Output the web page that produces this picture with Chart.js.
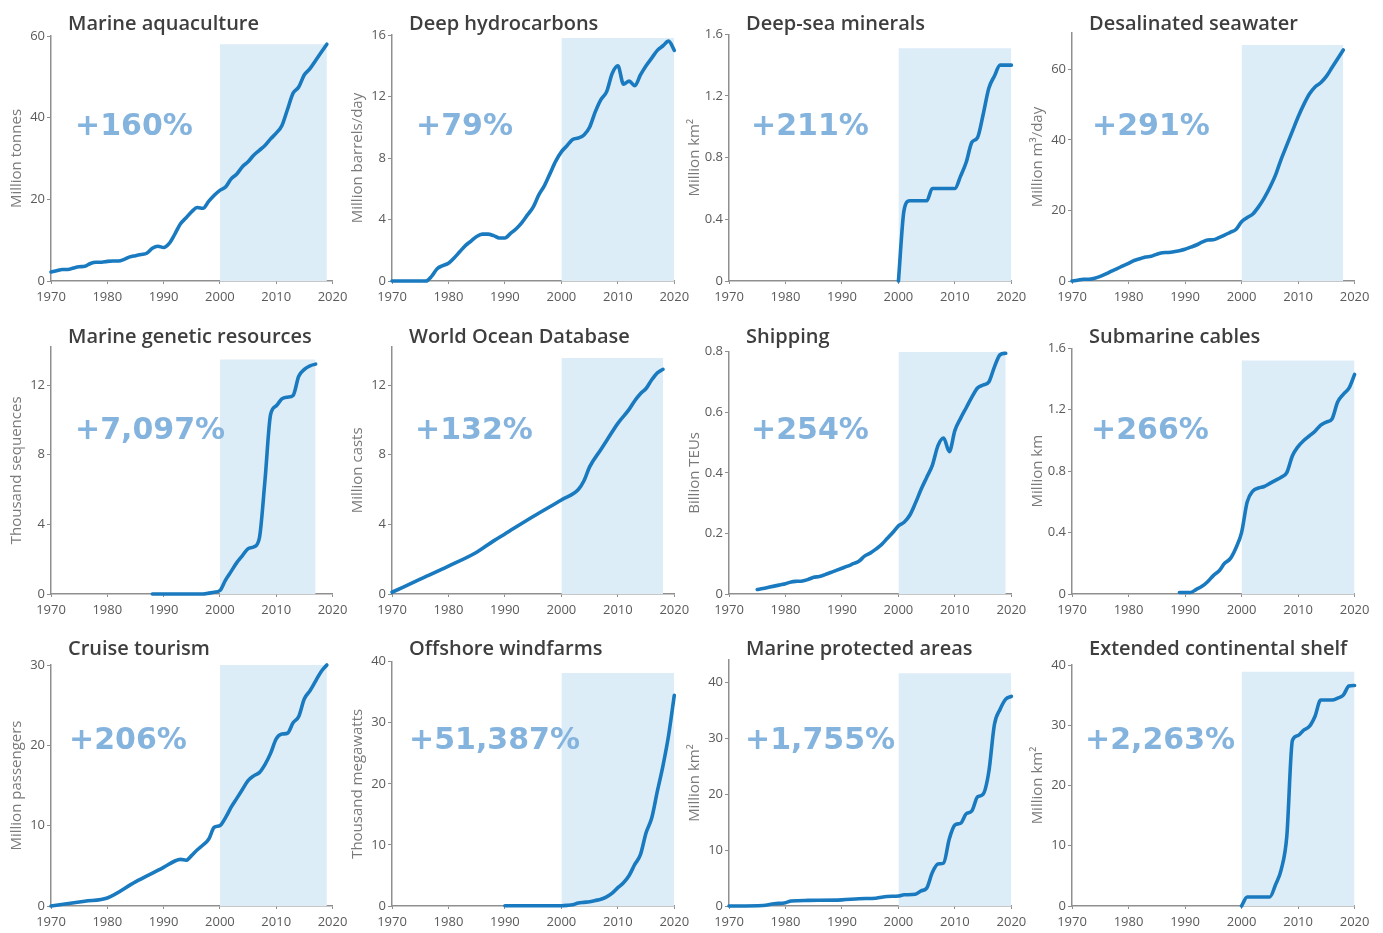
<!DOCTYPE html>
<html>
<head>
<meta charset="utf-8">
<title>Ocean activities since 1970</title>
<script src="https://cdn.jsdelivr.net/npm/chart.js@4.4.1/dist/chart.umd.min.js"></script>
<style>
  body { margin: 0; background: #fff; overflow: hidden; }
  #wrap { position: relative; width: 1383px; height: 933px; }
  #wrap canvas { position: absolute; }
</style>
</head>
<body>
<div id="wrap"></div>
<script>
// years helper for annual series
function span(a, b) { const out = []; for (let y = a; y <= b; y++) out.push(y); return out; }

const titles = ['Marine aquaculture', 'Deep hydrocarbons', 'Deep-sea minerals', 'Desalinated seawater',
  'Marine genetic resources', 'World Ocean Database', 'Shipping', 'Submarine cables',
  'Cruise tourism', 'Offshore windfarms', 'Marine protected areas', 'Extended continental shelf']
const units = ['Million tonnes', 'Million barrels/day', 'Million km²', 'Million m³/day',
  'Thousand sequences', 'Million casts', 'Billion TEUs', 'Million km',
  'Million passengers', 'Thousand megawatts', 'Million km²', 'Million km²']
const growth = ['+160%', '+79%', '+211%', '+291%', '+7,097%', '+132%', '+254%', '+266%',
  '+206%', '+51,387%', '+1,755%', '+2,263%']
const xTicks = [1970, 1980, 1990, 2000, 2010, 2020]
const yMax = [60, 16, 1.6, 70.3, 14.2, 14.2, 0.8, 1.6, 30, 40, 44, 40]
const yStep = [20, 4, 0.4, 20, 4, 4, 0.2, 0.4, 10, 10, 10, 10]
// light blue band: from 2000 to end year, up to shadeTop
const shadeStart = 2000
const shadeEnd = [2019, 2020, 2020, 2018, 2017, 2018, 2019, 2020, 2019, 2020, 2020, 2020]
const shadeTop = [58, 15.8, 1.51, 66.9, 13.47, 13.55, 0.8, 1.52, 30, 38.15, 41.65, 38.9]

const aquacultureYears = span(1970, 2019)
const aquacultureValues = [2.2, 2.5, 2.8, 2.8, 3.2, 3.5, 3.6, 4.3, 4.6, 4.6,
  4.8, 4.9, 4.9, 5.3, 5.9, 6.2, 6.5, 6.8, 8.0, 8.5,
  8.2, 9.2, 11.5, 14.0, 15.5, 17.0, 18.0, 17.8, 19.5, 21.0,
  22.2, 23.0, 25.0, 26.2, 28.0, 29.2, 30.8, 32.0, 33.2, 34.8,
  36.2, 38.0, 42.0, 46.0, 47.5, 50.5, 52.0, 54.0, 56.0, 58.0]

const hydrocarbonYears = span(1970, 2020)
const hydrocarbonValues = [0, 0, 0, 0, 0, 0, 0, 0.3, 0.8, 1.0,
  1.15, 1.5, 1.9, 2.3, 2.6, 2.9, 3.05, 3.05, 2.95, 2.8,
  2.8, 3.1, 3.4, 3.8, 4.3, 4.8, 5.6, 6.2, 7.0, 7.8,
  8.4, 8.8, 9.2, 9.3, 9.5, 10.0, 11.0, 11.8, 12.3, 13.5,
  14.0, 12.8, 13.0, 12.7, 13.4, 14.0, 14.5, 15.0, 15.3, 15.6, 15.0]

const mineralYears = span(2000, 2020)
const mineralValues = [0, 0.46, 0.52, 0.52, 0.52, 0.52, 0.6, 0.6, 0.6, 0.6,
  0.6, 0.68, 0.77, 0.9, 0.93, 1.08, 1.25, 1.33, 1.4, 1.4, 1.4]

const desalYears = span(1970, 2018)
const desalValues = [0, 0.2, 0.5, 0.5, 0.8, 1.3, 2.0, 2.8, 3.5, 4.3,
  5.0, 5.8, 6.3, 6.8, 7.0, 7.6, 8.0, 8.1, 8.3, 8.6,
  9.0, 9.6, 10.2, 11.0, 11.6, 11.7, 12.3, 13.0, 13.8, 14.6,
  16.8, 18.0, 19.0, 21.0, 23.5, 26.5, 30.0, 34.5, 38.5, 42.5,
  46.5, 50.0, 53.0, 55.0, 56.2, 58.0, 60.5, 63.0, 65.5]

const geneticYears = span(1988, 2017)
const geneticValues = [0, 0, 0, 0, 0, 0, 0, 0, 0, 0, 0.05, 0.1,
  0.2, 0.8, 1.3, 1.8, 2.2, 2.6, 2.7, 3.2, 6.5, 10.3,
  10.8, 11.2, 11.3, 11.4, 12.5, 12.9, 13.1, 13.2]

const wodYears = [1970, 1972, 1975, 1980, 1985, 1988, 1990, 1995, 2000, 2003, 2004, 2005,
  2007, 2008, 2010, 2012, 2013, 2014, 2015, 2016, 2017, 2018]
const wodValues = [0.1, 0.4, 0.85, 1.6, 2.4, 3.05, 3.45, 4.45, 5.4, 6.0, 6.5, 7.3,
  8.3, 8.8, 9.8, 10.6, 11.1, 11.5, 11.8, 12.3, 12.7, 12.9]

const shippingYears = span(1975, 2019)
const shippingValues = [0.015, 0.018, 0.022, 0.026, 0.03,
  0.034, 0.04, 0.042, 0.043, 0.048, 0.055, 0.058, 0.064, 0.071, 0.078,
  0.085, 0.092, 0.1, 0.108, 0.125, 0.135, 0.148, 0.163, 0.183, 0.203,
  0.225, 0.237, 0.26, 0.3, 0.345, 0.385, 0.425, 0.49, 0.515, 0.47,
  0.54, 0.58, 0.615, 0.65, 0.68, 0.69, 0.70, 0.75, 0.79, 0.795]

const cableYears = span(1989, 2020)
const cableValues = [0.01,
  0.01, 0.01, 0.03, 0.05, 0.08, 0.12, 0.15, 0.2, 0.23, 0.3,
  0.4, 0.6, 0.67, 0.69, 0.7, 0.72, 0.74, 0.76, 0.79, 0.9,
  0.96, 1.0, 1.03, 1.06, 1.1, 1.12, 1.14, 1.25, 1.3, 1.34, 1.43]

const cruiseYears = [1970, 1976, 1980, 1985, 1990, 1992, 1993, 1994, 1995, 1996, 1997, 1998, 1999,
  2000, 2001, 2002, 2003, 2004, 2005, 2006, 2007, 2008, 2009,
  2010, 2011, 2012, 2013, 2014, 2015, 2016, 2017, 2018, 2019]
const cruiseValues = [0, 0.6, 1.0, 3.0, 4.8, 5.6, 5.8, 5.7, 6.3, 7.0, 7.6, 8.3, 9.8,
  10.0, 11.0, 12.3, 13.4, 14.5, 15.6, 16.2, 16.6, 17.6, 19.0,
  20.8, 21.4, 21.5, 22.8, 23.6, 25.8, 26.8, 28.0, 29.2, 30.0]

const windYears = [1990, 2000, 2001, 2002, 2003, 2004, 2005, 2006, 2007, 2008, 2009,
  2010, 2011, 2012, 2013, 2014, 2015, 2016, 2017, 2018, 2019, 2020]
const windValues = [0.05, 0.05, 0.1, 0.2, 0.5, 0.6, 0.7, 0.9, 1.1, 1.5, 2.1,
  3.0, 3.8, 5.0, 6.8, 8.4, 12.0, 14.4, 18.8, 23.0, 28.0, 34.5]

const mpaYears = [1970, 1976, 1978, 1980, 1981, 1984, 1990, 1993, 1996, 1998,
  2000, 2001, 2003, 2004, 2005, 2006, 2007, 2008, 2009,
  2010, 2011, 2012, 2013, 2014, 2015, 2016, 2017, 2018, 2019, 2020]
const mpaValues = [0, 0.1, 0.4, 0.6, 0.9, 1.0, 1.1, 1.3, 1.4, 1.7,
  1.8, 2.0, 2.1, 2.7, 3.2, 6.0, 7.5, 7.7, 12.0,
  14.5, 14.8, 16.5, 17.0, 19.5, 20.0, 24.0, 32.5, 35.2, 37.0, 37.5]

const shelfYears = span(2000, 2020)
const shelfValues = [0, 1.5, 1.5, 1.5, 1.5, 1.5, 3.5, 6.0, 11.5, 27.5,
  28.3, 29.2, 29.8, 31.5, 34.2, 34.2, 34.2, 34.5, 35.0, 36.5, 36.6]

const seriesYears = [aquacultureYears, hydrocarbonYears, mineralYears, desalYears,
  geneticYears, wodYears, shippingYears, cableYears,
  cruiseYears, windYears, mpaYears, shelfYears]
const seriesValues = [aquacultureValues, hydrocarbonValues, mineralValues, desalValues,
  geneticValues, wodValues, shippingValues, cableValues,
  cruiseValues, windValues, mpaValues, shelfValues]

// page layout (pixels)
const colAxisX = [50.7, 391.7, 729.3, 1071.7]
const colPlotW = [281.5, 282.3, 282.4, 282.6]
const rowTop = [0, 313, 625]
const plotTop = [36, 35, 34.3, 33, 33.7, 33.7, 38.7, 35.3, 40, 36.7, 35, 40]
const pctDx = [24, 24, 22, 20, 24, 23, 22, 19, 18, 17, 16, 13]
const pctY = [127.5, 127.5, 127.5, 127.5, 118, 118, 118, 118, 116.7, 116.7, 116.7, 116.7]
const AXIS_W = 50, PANEL_W = 356, PANEL_H = 313, XAXIS_H = 32

const LINE = '#1a7abf'
const SHADE = '#ddedf8'
const PCT = '#84b4de'
const AXIS = '#8f8f8f'
const TICK_TXT = '#5a5a5a'

const panelText = {
  id: 'panelText',
  afterDatasetsDraw(chart, args, opts) {
    const {ctx, chartArea} = chart
    ctx.save()
    ctx.font = '600 20px "Open Sans"'
    ctx.fillStyle = '#3e3e3e'
    ctx.textBaseline = 'alphabetic'
    ctx.textAlign = 'left'
    ctx.fillText(opts.title, chartArea.left + 17, 29.5)
    ctx.font = 'bold 30px "DejaVu Sans"'
    ctx.fillStyle = PCT
    ctx.textBaseline = 'middle'
    ctx.fillText(opts.pct, chartArea.left + opts.dx, opts.y)
    ctx.restore()
  }
}

const wrap = document.getElementById('wrap')

titles.forEach((title, i) => {
  const col = i % 4, row = Math.floor(i / 4)
  const cv = document.createElement('canvas')
  cv.width = PANEL_W
  cv.height = PANEL_H
  cv.style.left = (colAxisX[col] - AXIS_W) + 'px'
  cv.style.top = rowTop[row] + 'px'
  cv.style.width = PANEL_W + 'px'
  cv.style.height = PANEL_H + 'px'
  wrap.appendChild(cv)

  const points = seriesYears[i].map((x, k) => ({x: x, y: seriesValues[i][k]}))
  const shade = [{x: shadeStart, y: shadeTop[i]}, {x: shadeEnd[i], y: shadeTop[i]}]

  new Chart(cv, {
    type: 'line',
    data: {
      datasets: [
        {
          data: points,
          borderColor: LINE,
          borderWidth: 3.6,
          pointRadius: 0,
          cubicInterpolationMode: 'monotone',
          borderCapStyle: 'round',
          borderJoinStyle: 'round',
          clip: 6,
          fill: false
        },
        {
          data: shade,
          borderWidth: 0,
          pointRadius: 0,
          backgroundColor: SHADE,
          fill: 'origin'
        }
      ]
    },
    options: {
      responsive: false,
      animation: false,
      layout: {
        padding: {top: plotTop[i], right: PANEL_W - AXIS_W - colPlotW[col], left: 0, bottom: 0}
      },
      plugins: {
        legend: {display: false},
        tooltip: {enabled: false},
        panelText: {title: title, pct: growth[i], dx: pctDx[i], y: pctY[i]}
      },
      scales: {
        x: {
          type: 'linear',
          min: 1970,
          max: 2020,
          afterBuildTicks: s => { s.ticks = xTicks.map(v => ({value: v})) },
          afterFit: s => { s.height = XAXIS_H },
          grid: {drawOnChartArea: false, tickLength: 3, color: AXIS},
          border: {color: AXIS, width: 1.5},
          ticks: {
            color: TICK_TXT,
            font: {family: 'Open Sans', size: 13},
            padding: 5,
            maxRotation: 0,
            callback: v => String(v)
          }
        },
        y: {
          min: 0,
          max: yMax[i],
          afterFit: s => { s.width = AXIS_W },
          grid: {drawOnChartArea: false, tickLength: 4, color: AXIS},
          border: {color: AXIS, width: 1.5},
          ticks: {
            stepSize: yStep[i],
            includeBounds: false,
            color: TICK_TXT,
            font: {family: 'Open Sans', size: 13},
            padding: 2
          },
          title: {
            display: true,
            text: units[i],
            color: '#7a7a7a',
            font: {family: 'Open Sans', size: 15},
            padding: {top: 7, bottom: 0}
          }
        }
      }
    },
    plugins: [panelText]
  })
})
</script>
</body>
</html>
